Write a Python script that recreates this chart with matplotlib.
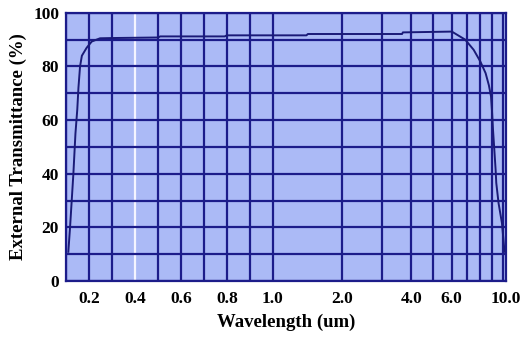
import matplotlib.pyplot as plt
import matplotlib.transforms as mtransforms
import numpy as np

# transmittance curve
wl = [0.110, 0.1175, 0.132, 0.141, 0.149, 0.154, 0.161, 0.169, 0.190, 0.212, 0.248, 0.305,
      0.50, 0.51, 0.79, 0.80, 1.40, 1.42, 3.65, 3.68, 6.01, 6.87, 7.48, 8.0, 8.43, 8.71,
      8.90, 8.99, 9.08, 9.20, 9.32, 9.38, 9.60, 9.93, 10.19]
trans = [10.9, 20.0, 40.0, 55.0, 64.0, 72.0, 80.0, 84.0, 87.0, 89.3, 90.5, 90.6,
         90.8, 91.2, 91.2, 91.6, 91.6, 92.1, 92.1, 92.7, 93.0, 90.0, 86.2, 81.8, 77.5, 73.0,
         68.8, 63.2, 56.3, 48.9, 41.4, 36.6, 29.0, 21.6, 10.9]

grid_x = [0.1, 0.2, 0.3, 0.4, 0.5, 0.6, 0.7, 0.8, 0.9, 1.0,
          2.0, 3.0, 4.0, 5.0, 6.0, 7.0, 8.0, 9.0, 10.0]
x_labels = {0.2: '0.2', 0.4: '0.4', 0.6: '0.6', 0.8: '0.8', 1.0: '1.0',
            2.0: '2.0', 4.0: '4.0', 6.0: '6.0', 10.0: '10.0'}
grid_y = list(range(0, 101, 10))


# linear below 1 um, log above
def fwd(x):
    x = np.asarray(x, dtype=float)
    return np.where(x <= 1, x - 1, np.log10(np.maximum(x, 1e-9)))


def inv(u):
    u = np.asarray(u, dtype=float)
    return np.where(u <= 0, u + 1, 10 ** u)


plt.rcParams['font.family'] = ['Liberation Serif', 'DejaVu Serif']
plt.rcParams['font.weight'] = 'bold'

fig = plt.figure(figsize=(5.24, 3.37), dpi=100)
ax = fig.add_axes([0.126, 0.166, 0.840, 0.796])
ax.set_facecolor('#abbaf6')

ax.set_xscale('function', functions=(fwd, inv))
ax.set_xlim(0.1, 10.36)
ax.set_ylim(0, 100)

navy = '#1c1c8a'
for gx in grid_x:
    ax.axvline(gx, color='#f4f4ff' if gx == 0.4 else navy, lw=1.6, zorder=1)
for gy in grid_y:
    ax.axhline(gy, color=navy, lw=1.6, zorder=1)

ax.plot(wl, trans, color='#1a1a78', lw=1.4, zorder=3)

ax.set_xticks(grid_x)
ax.set_xticklabels([x_labels.get(g, '') for g in grid_x])
ax.set_yticks(grid_y)
ax.set_yticklabels([str(g) if g % 20 == 0 else '' for g in grid_y])
ax.tick_params(length=0, labelsize=12.5)
ax.tick_params(axis='x', pad=7)
ax.tick_params(axis='y', pad=5)
# last x label sits a little right of its grid line in the original
lab = ax.get_xticklabels()[-1]
lab.set_transform(lab.get_transform() + mtransforms.ScaledTranslation(3 / 100, 0, fig.dpi_scale_trans))

for s in ax.spines.values():
    s.set_color(navy)
    s.set_linewidth(1.6)

ax.set_xlabel('Wavelength (um)', fontsize=13.5, fontweight='bold', labelpad=5)
ax.set_ylabel('External Transmittance (%)', fontsize=13.5, fontweight='bold')
ax.yaxis.set_label_coords(-0.089, 0.5)

fig.savefig('out.png', dpi=100)
